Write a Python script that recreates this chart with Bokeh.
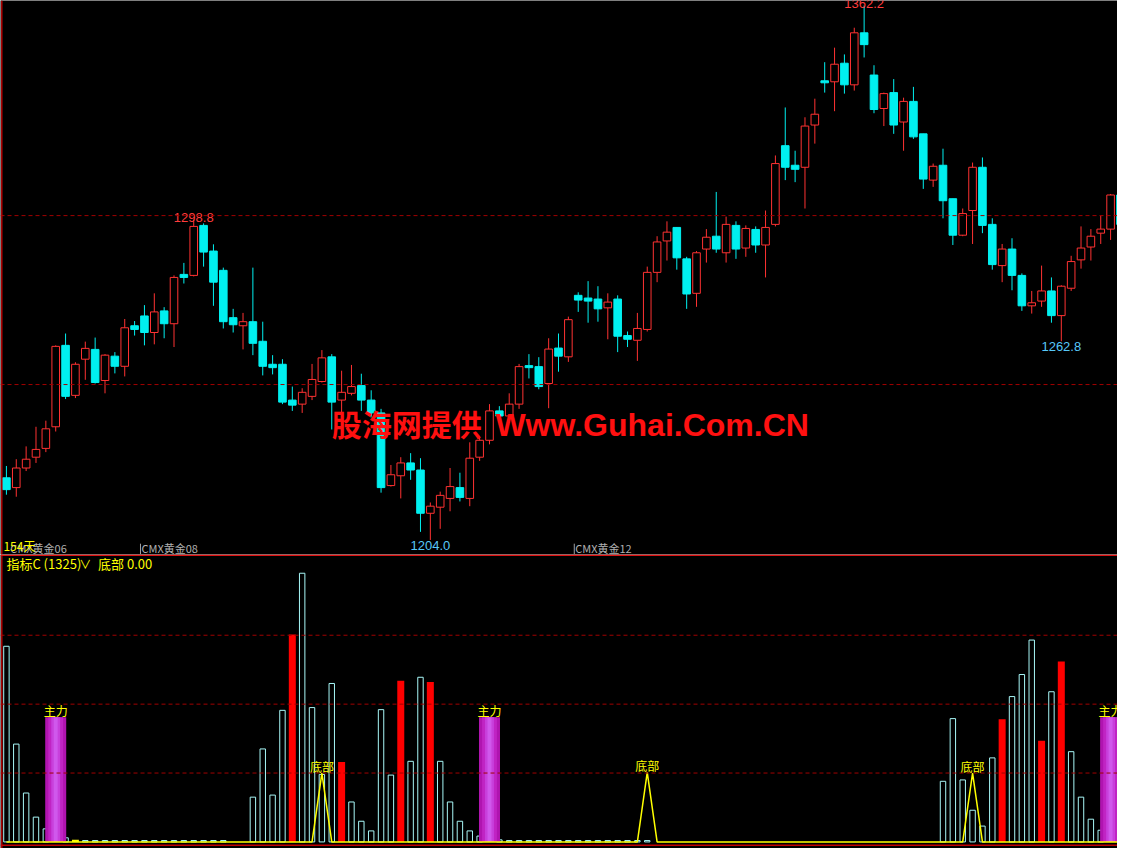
from bokeh.plotting import figure
from bokeh.layouts import column
from bokeh.models import Range1d, Span
from bokeh.core.properties import value
from bokeh.embed import file_html
from bokeh.resources import INLINE

# ---------------- price data (15-minute candles, CMX gold) ----------------
opens = [1222.4, 1219.5, 1225.3, 1228.5, 1231.1, 1237.5, 1261.6, 1246.8, 1257.5, 1260.4,
         1251.2, 1258.4, 1255.4, 1267.4, 1270.3, 1265.4, 1271.8, 1268.0, 1282.6, 1282.3,
         1297.1, 1289.5, 1283.8, 1269.8, 1267.4, 1268.6, 1262.8, 1256.0, 1256.0, 1245.4,
         1244.2, 1246.5, 1250.9, 1258.2, 1245.4, 1247.4, 1249.7, 1245.4, 1241.6, 1220.1,
         1223.0, 1226.8, 1224.7, 1211.9, 1213.7, 1216.3, 1219.5, 1216.3, 1228.5, 1233.5,
         1242.2, 1240.7, 1244.2, 1255.6, 1255.3, 1250.3, 1260.8, 1258.2, 1276.4, 1275.6,
         1275.3, 1272.7, 1275.3, 1264.5, 1263.1, 1266.3, 1283.2, 1292.5, 1296.5, 1287.2,
         1277.0, 1290.1, 1293.9, 1289.0, 1297.1, 1290.4, 1295.9, 1291.3, 1297.4, 1320.7,
         1314.9, 1314.3, 1326.8, 1339.9, 1339.6, 1345.1, 1338.7, 1354.1, 1341.6, 1331.7,
         1336.4, 1327.7, 1333.8, 1324.2, 1310.5, 1314.9, 1305.0, 1294.2, 1301.5, 1314.3,
         1297.4, 1285.2, 1290.1, 1282.3, 1273.3, 1274.7, 1277.7, 1270.4, 1278.5, 1286.9,
         1290.7, 1294.8, 1296.0, 1306.1]
highs = [1225.9, 1227.9, 1231.7, 1237.5, 1239.3, 1261.6, 1265.1, 1256.6, 1262.7, 1263.9,
         1259.0, 1259.6, 1269.4, 1268.8, 1273.5, 1277.0, 1272.9, 1282.3, 1286.0, 1298.8,
         1297.7, 1291.5, 1284.6, 1272.4, 1271.2, 1284.6, 1268.6, 1258.7, 1257.5, 1249.4,
         1248.9, 1256.1, 1260.2, 1259.0, 1254.1, 1255.8, 1253.2, 1248.3, 1242.8, 1226.2,
         1228.5, 1229.7, 1228.2, 1215.1, 1218.3, 1225.3, 1223.9, 1232.9, 1234.6, 1244.2,
         1243.6, 1247.4, 1256.1, 1259.0, 1258.1, 1263.7, 1265.1, 1270.1, 1277.3, 1280.6,
         1279.1, 1277.0, 1276.4, 1265.7, 1271.2, 1284.9, 1293.9, 1298.3, 1296.5, 1287.8,
         1289.5, 1296.0, 1307.0, 1299.7, 1298.3, 1297.1, 1296.8, 1301.5, 1317.8, 1332.0,
         1319.2, 1329.1, 1334.6, 1345.4, 1349.7, 1347.7, 1355.6, 1362.2, 1344.5, 1336.4,
         1340.4, 1334.9, 1338.1, 1324.2, 1315.4, 1319.8, 1305.0, 1302.1, 1315.7, 1317.2,
         1299.2, 1291.6, 1293.3, 1282.9, 1277.7, 1285.2, 1281.7, 1279.4, 1288.1, 1296.8,
         1296.0, 1300.0, 1306.4, 1306.7]
lows = [1217.4, 1216.8, 1224.4, 1226.8, 1230.0, 1236.1, 1245.7, 1246.0, 1251.4, 1250.3,
        1247.4, 1253.3, 1252.4, 1264.5, 1261.6, 1261.9, 1263.7, 1261.1, 1279.9, 1282.0,
        1284.9, 1273.3, 1266.6, 1265.4, 1260.4, 1258.7, 1252.7, 1253.0, 1244.2, 1242.2,
        1241.6, 1245.4, 1250.6, 1236.7, 1241.6, 1246.8, 1242.2, 1240.2, 1218.0, 1219.8,
        1216.3, 1221.8, 1206.4, 1204.0, 1207.3, 1212.5, 1215.4, 1214.0, 1227.4, 1232.3,
        1238.1, 1238.7, 1242.8, 1251.8, 1248.6, 1243.0, 1253.8, 1256.7, 1271.5, 1268.3,
        1268.6, 1263.4, 1259.6, 1261.1, 1257.0, 1265.7, 1280.3, 1286.7, 1284.0, 1272.4,
        1273.0, 1286.1, 1289.0, 1286.1, 1287.2, 1287.8, 1289.0, 1281.7, 1296.8, 1310.5,
        1309.9, 1302.1, 1321.3, 1336.4, 1330.9, 1336.1, 1337.0, 1346.8, 1330.3, 1326.5,
        1324.2, 1319.2, 1322.7, 1307.9, 1308.5, 1299.2, 1291.3, 1293.9, 1291.6, 1294.8,
        1284.0, 1280.3, 1277.9, 1271.8, 1271.0, 1273.0, 1268.3, 1262.8, 1277.7, 1284.3,
        1286.7, 1291.6, 1292.8, 1296.2]
closes = [1218.9, 1225.3, 1227.9, 1230.8, 1236.9, 1261.3, 1246.5, 1256.0, 1260.7, 1250.6,
          1258.7, 1255.4, 1266.8, 1266.3, 1265.4, 1271.5, 1268.0, 1281.7, 1281.7, 1296.8,
          1289.2, 1280.3, 1268.6, 1267.7, 1268.6, 1262.2, 1255.4, 1255.0, 1244.8, 1243.9,
          1247.7, 1251.5, 1257.9, 1244.8, 1247.7, 1249.4, 1245.4, 1241.6, 1219.5, 1223.3,
          1226.8, 1224.7, 1211.9, 1214.0, 1217.2, 1219.8, 1216.6, 1228.2, 1233.5, 1242.2,
          1240.7, 1244.2, 1255.3, 1255.0, 1249.4, 1260.5, 1258.4, 1269.2, 1275.0, 1274.7,
          1272.4, 1274.4, 1264.3, 1263.4, 1266.6, 1283.2, 1292.2, 1295.1, 1287.5, 1276.8,
          1289.0, 1293.6, 1290.1, 1297.4, 1290.1, 1296.2, 1291.3, 1296.5, 1315.4, 1314.3,
          1313.7, 1326.5, 1330.0, 1339.3, 1344.8, 1338.7, 1354.1, 1350.6, 1331.4, 1336.1,
          1326.8, 1333.8, 1323.3, 1310.8, 1314.6, 1304.4, 1294.2, 1300.6, 1314.3, 1297.1,
          1285.5, 1290.1, 1282.3, 1273.3, 1274.2, 1277.7, 1270.4, 1279.1, 1286.4, 1290.4,
          1293.9, 1296.0, 1306.1, 1297.4]

peak_idx = [19, 87]
trough_idx = [43, 107]
price_grid = [1250, 1300]
tick_pos = [0.3, 13.6, 57.6]
tick_labels = ["CMX黄金06", "CMX黄金08", "CMX黄金12"]
period_label = "154天"

# ---------------- indicator data (指标C) ----------------
hollow = [28.4, 14.2, 7.1, 3.6, 1.9, 0, 0.6, 0, 0.2, 0.2,
          0.2, 0.2, 0.2, 0.2, 0.2, 0.2, 0.2, 0.2, 0.2, 0.2,
          0.2, 0.2, 0.2, 0, 0, 6.5, 13.5, 6.8, 19.1, 0,
          39.0, 19.5, 9.8, 23.0, 0, 5.8, 3.0, 1.6, 19.2, 9.7,
          0, 11.7, 23.9, 0, 11.7, 5.8, 3.0, 1.6, 0.85, 0,
          0.3, 0.2, 0.2, 0.2, 0.2, 0.2, 0.2, 0.2, 0.2, 0.2,
          0.2, 0.2, 0.2, 0.2, 0.2, 0.2, 0, 0, 0, 0,
          0, 0, 0, 0, 0, 0, 0, 0, 0, 0,
          0, 0, 0, 0, 0, 0, 0, 0, 0, 0,
          0, 0, 0, 0, 0, 8.8, 17.9, 9.0, 4.6, 2.3,
          12.2, 0, 21.1, 24.3, 29.3, 0, 21.8, 0, 13.1, 6.5,
          3.3, 1.7, 0, 0]
red_idx = [29, 34, 40, 43, 101, 105, 107]
red_val = [30.1, 11.6, 23.4, 23.2, 17.8, 14.7, 26.2]
main_idx = [5, 49, 112]
main_val = [18.1, 18.1, 18.1]
bottom_line = [0, 0, 0, 0, 0, 0, 0, 0, 0, 0,
               0, 0, 0, 0, 0, 0, 0, 0, 0, 0,
               0, 0, 0, 0, 0, 0, 0, 0, 0, 0,
               0, 0, 10.0, 0, 0, 0, 0, 0, 0, 0,
               0, 0, 0, 0, 0, 0, 0, 0, 0, 0,
               0, 0, 0, 0, 0, 0, 0, 0, 0, 0,
               0, 0, 0, 0, 0, 10.1, 0, 0, 0, 0,
               0, 0, 0, 0, 0, 0, 0, 0, 0, 0,
               0, 0, 0, 0, 0, 0, 0, 0, 0, 0,
               0, 0, 0, 0, 0, 0, 0, 0, 10.0, 0,
               0, 0, 0, 0, 0, 0, 0, 0, 0, 0,
               0, 0, 0, 0]
yellow_idx = [7]
yellow_val = [0.3]
ind_grid = [10, 20, 30]
ind_title = "指标C (1325)"
ind_value = "底部 0.00"

RED = "#ff3232"
CYAN = "#00f0f0"
GRID = "#a00000"
YEL = "#ffff00"
CJK = value("Noto Sans CJK SC")
LAT = value("Liberation Sans")

N = len(opens)
idx = list(range(N))
xr = Range1d(-0.6, 112.7)

# ---------------- top: candles ----------------
p = figure(width=1117, height=554, x_range=xr, y_range=Range1d(1199.7, 1363.66),
           output_backend="svg", toolbar_location=None, x_axis_location=None,
           y_axis_location=None, background_fill_color="black",
           border_fill_color="black", outline_line_color=None, min_border=0)
p.grid.visible = False

for g in price_grid:
    p.add_layout(Span(location=g, dimension="width", line_color=GRID,
                      line_dash="4 3", line_width=1))
p.add_layout(Span(location=-0.47, dimension="height", line_color="#b00000", line_width=1.5))

up = [i for i in idx if closes[i] >= opens[i]]
dn = [i for i in idx if closes[i] < opens[i]]
wick_col = [RED if closes[i] >= opens[i] else CYAN for i in idx]
p.segment(x0=idx, y0=highs, x1=idx, y1=lows, line_color=wick_col, line_width=1)
p.vbar(x=up, bottom=[opens[i] for i in up], top=[closes[i] for i in up], width=0.77,
       fill_color="black", line_color=RED, line_width=1)
p.vbar(x=dn, top=[opens[i] for i in dn], bottom=[closes[i] for i in dn], width=0.77,
       fill_color=CYAN, line_color=CYAN, line_width=1)

p.text(x=peak_idx, y=[highs[i] for i in peak_idx],
       text=[f"{highs[i]:.1f}" for i in peak_idx], text_font=LAT,
       text_font_size="13px", text_color="#ff3c3c", text_align="center",
       text_baseline="alphabetic", y_offset=-2)
p.text(x=trough_idx, y=[lows[i] for i in trough_idx],
       text=[f"{lows[i]:.1f}" for i in trough_idx], text_font=LAT,
       text_font_size="13px", text_color="#58c8f8", text_align="center",
       text_baseline="top", y_offset=1)

# watermark
p.text(x=[33.0], y=[1238.6], text=["股海网提供"], text_font=CJK, text_font_size="30px",
       text_font_style="bold", text_color="#ff1010", text_align="left",
       text_baseline="middle")
p.text(x=[49.6], y=[1238.0], text=["Www.Guhai.Com.CN"], text_font=LAT,
       text_font_size="32px", text_font_style="bold", text_color="#ff1010",
       text_align="left", text_baseline="middle")

# time labels
p.segment(x0=tick_pos[1:], y0=[1202.9] * 2, x1=tick_pos[1:], y1=[1199.7] * 2,
          line_color="#a0a0a0", line_width=1)
p.text(x=[t + 0.1 for t in tick_pos], y=[1201.7] * 3, text=tick_labels, text_font=CJK,
       text_font_size="11px", text_color="#b0b0b0", text_align="left",
       text_baseline="middle")
p.text(x=[-0.3], y=[1202.4], text=[period_label], text_font=CJK, text_font_size="12px",
       text_color=YEL, text_align="left", text_baseline="middle")

# ---------------- bottom: indicator ----------------
q = figure(width=1117, height=294, x_range=xr, y_range=Range1d(-0.953, 41.72),
           output_backend="svg", toolbar_location=None, x_axis_location=None,
           y_axis_location=None, background_fill_color="black",
           border_fill_color="black", outline_line_color=None, min_border=0)
q.grid.visible = False
for g in ind_grid:
    q.add_layout(Span(location=g, dimension="width", line_color=GRID,
                      line_dash="4 3", line_width=1))
q.add_layout(Span(location=-0.47, dimension="height", line_color="#b00000", line_width=1.5))
q.add_layout(Span(location=41.62, dimension="width", line_color="#e01010", line_width=1.5))
q.add_layout(Span(location=-0.48, dimension="width", line_color="#c00000", line_width=1.5))

hx = [i for i, v in enumerate(hollow) if v > 0]
q.vbar(x=hx, top=[hollow[i] for i in hx], bottom=0, width=0.55, fill_color=None,
       line_color="#a8f8f8", line_width=1)
q.vbar(x=red_idx, top=red_val, bottom=0, width=0.71, fill_color="#ff0000", line_color=None)
for w, c in [(2.13, "#b014b0"), (1.5, "#c024c4"), (0.9, "#c840dc"), (0.4, "#d058ec")]:
    q.vbar(x=main_idx, top=main_val, bottom=0, width=w, fill_color=c, line_color=None)
q.vbar(x=yellow_idx, top=yellow_val, bottom=0, width=0.7, fill_color=YEL, line_color=None)
q.line(x=idx, y=bottom_line, line_color=YEL, line_width=1.5)

q.text(x=main_idx, y=main_val, text=["主力"] * len(main_idx), text_font=CJK,
       text_font_size="12px", text_color=YEL, text_align="center",
       text_baseline="bottom", y_offset=2)
pk = [i for i, v in enumerate(bottom_line) if v > 0]
q.text(x=pk, y=[bottom_line[i] for i in pk], text=["底部"] * len(pk), text_font=CJK,
       text_font_size="12px", text_color=YEL, text_align="center",
       text_baseline="bottom", y_offset=2)

q.text(x=[0.0], y=[40.4], text=[ind_title], text_font=CJK, text_font_size="13px",
       text_color=YEL, text_align="left", text_baseline="middle")
q.text(x=[8.0], y=[40.4], text=["∨"], text_font=CJK, text_font_size="12px",
       text_color=YEL, text_align="center", text_baseline="middle")
q.text(x=[9.3], y=[40.4], text=[ind_value], text_font=CJK, text_font_size="13px",
       text_color=YEL, text_align="left", text_baseline="middle")

layout = column(p, q, spacing=0)
open("out.html", "w").write(file_html(layout, INLINE))
